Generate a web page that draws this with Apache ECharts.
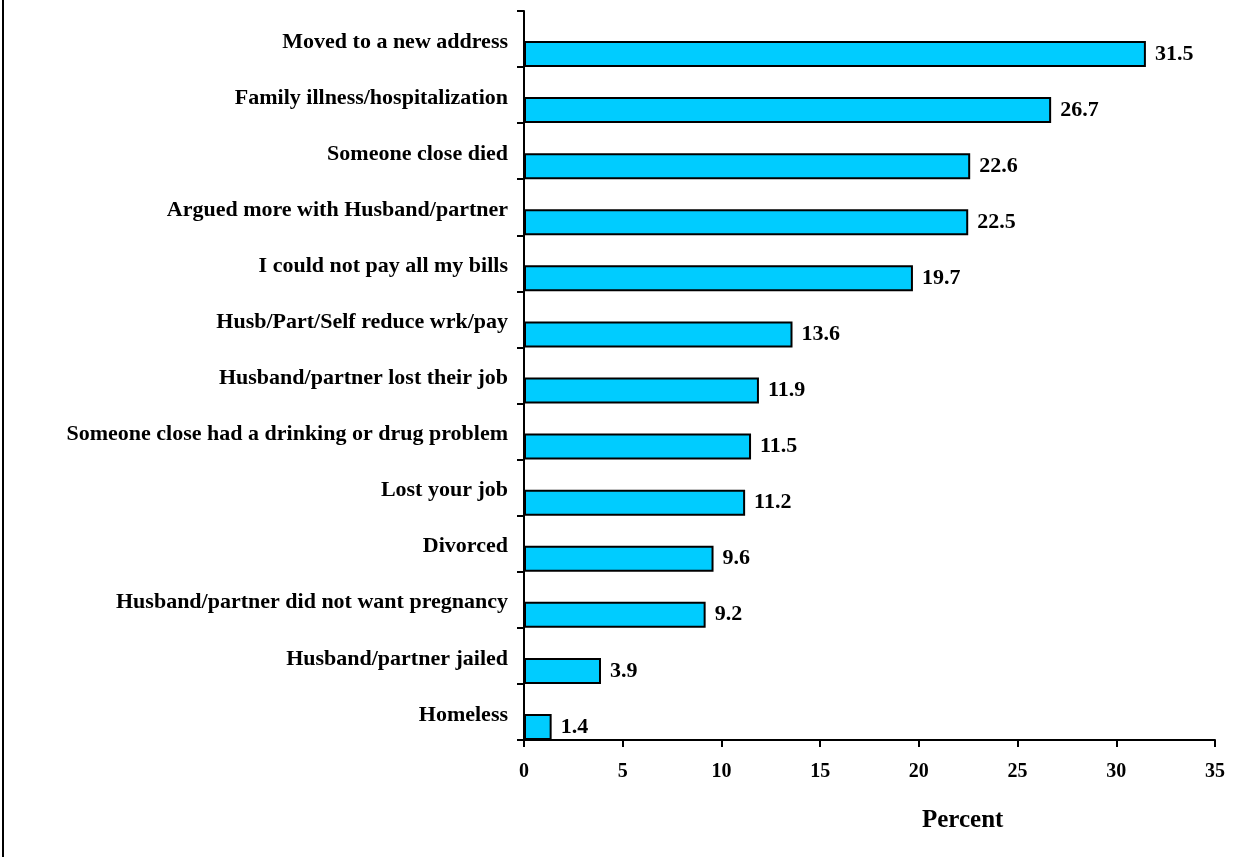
<!DOCTYPE html>
<html>
<head>
<meta charset="utf-8">
<script src="https://cdn.jsdelivr.net/npm/echarts@6/dist/echarts.min.js"></script>
<style>
html,body{margin:0;padding:0;background:#fff;}
#chart{width:1257px;height:857px;}
</style>
</head>
<body>
<div id="chart"></div>
<script>
const categories = [
  "Moved to a new address",
  "Family illness/hospitalization",
  "Someone close died",
  "Argued more with Husband/partner",
  "I could not pay all my bills",
  "Husb/Part/Self reduce wrk/pay",
  "Husband/partner lost their job",
  "Someone close had a drinking or drug problem",
  "Lost your job",
  "Divorced",
  "Husband/partner did not want pregnancy",
  "Husband/partner jailed",
  "Homeless"
];
const values = [31.5, 26.7, 22.6, 22.5, 19.7, 13.6, 11.9, 11.5, 11.2, 9.6, 9.2, 3.9, 1.4];
const xTicks = [0, 5, 10, 15, 20, 25, 30, 35];
const axisTitle = "Percent";

const FONT = "'Liberation Serif', 'Times New Roman', serif";
const chart = echarts.init(document.getElementById('chart'));
const spacer = categories.map(() => '-');

chart.setOption({
  animation: false,
  backgroundColor: '#fff',
  grid: { left: 524, top: 11, right: 42, bottom: 117, containLabel: false },
  xAxis: {
    type: 'value',
    min: xTicks[0],
    max: xTicks[xTicks.length - 1],
    interval: 5,
    axisLine: { show: true, lineStyle: { color: '#000', width: 2 } },
    axisTick: { show: true, length: 7, lineStyle: { color: '#000', width: 2 } },
    splitLine: { show: false },
    axisLabel: { color: '#000', fontFamily: FONT, fontWeight: 'bold', fontSize: 20, margin: 22 }
  },
  yAxis: {
    type: 'category',
    data: categories,
    inverse: true,
    axisLine: { show: true, lineStyle: { color: '#000', width: 2 } },
    axisTick: { show: true, length: 7, lineStyle: { color: '#000', width: 2 } },
    axisLabel: {
      margin: 16,
      formatter: v => '{a|' + v + '}',
      rich: {
        a: { color: '#000', fontFamily: FONT, fontWeight: 'bold', fontSize: 22, padding: [6, 0, 0, 0] }
      }
    }
  },
  series: [
    {
      type: 'bar',
      data: spacer,
      barWidth: 30,
      barGap: '0%',
      barCategoryGap: '0%',
      silent: true,
      itemStyle: { color: 'transparent' }
    },
    {
      type: 'bar',
      data: values,
      barWidth: 26,
      barGap: '0%',
      barCategoryGap: '0%',
      itemStyle: { color: '#00CCFF', borderColor: '#000', borderWidth: 2 },
      label: {
        show: true,
        position: 'right',
        distance: 9,
        color: '#000',
        fontFamily: FONT,
        fontWeight: 'bold',
        fontSize: 22
      }
    }
  ],
  graphic: [
    { type: 'line', shape: { x1: 3, y1: 0, x2: 3, y2: 857 }, style: { stroke: '#000', lineWidth: 2 } },
    { type: 'text', left: 922, top: 808, style: { text: axisTitle, fill: '#000', font: "bold 25px " + FONT } }
  ]
});
</script>
</body>
</html>
